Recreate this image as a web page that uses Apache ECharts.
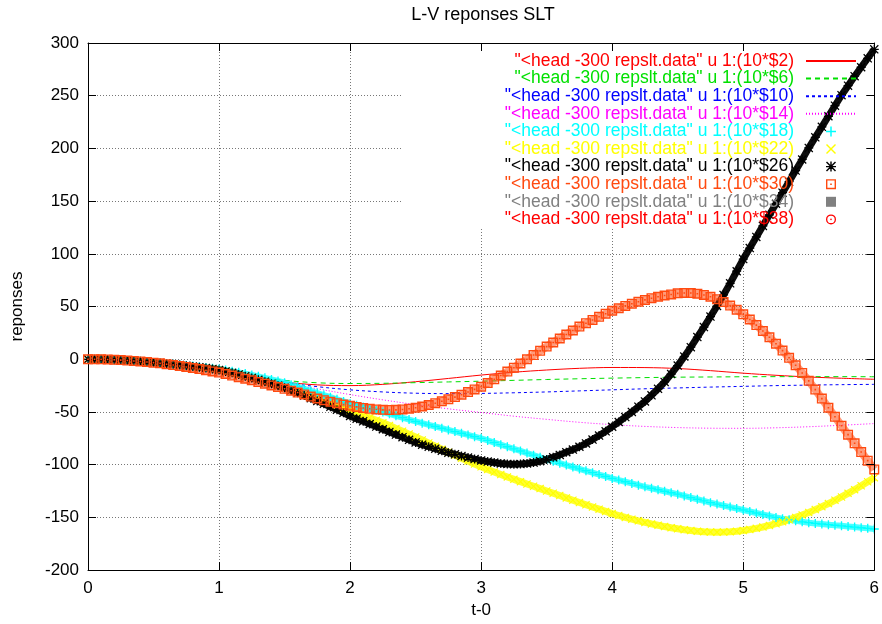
<!DOCTYPE html>
<html><head><meta charset="utf-8">
<script src="https://cdn.jsdelivr.net/npm/echarts@6/dist/echarts.min.js"></script>
<style>html,body{margin:0;padding:0;background:#fff}#c{width:882px;height:624px}</style>
</head><body><div id="c"></div>
<script>
// sample times of the point series (t-0)
const T = [0,0.05,0.1,0.15,0.2,0.25,0.3,0.35,0.4,0.45,0.5,0.55,0.6,0.65,0.7,0.75,0.8,0.85,0.9,0.95,
1,1.05,1.1,1.15,1.2,1.25,1.3,1.35,1.4,1.45,1.5,1.55,1.6,1.65,1.7,1.75,1.8,1.85,1.9,1.95,
2,2.05,2.1,2.15,2.2,2.25,2.3,2.35,2.4,2.45,2.5,2.55,2.6,2.65,2.7,2.75,2.8,2.85,2.9,2.95,
3,3.05,3.1,3.15,3.2,3.25,3.3,3.35,3.4,3.45,3.5,3.55,3.6,3.65,3.7,3.75,3.8,3.85,3.9,3.95,
4,4.05,4.1,4.15,4.2,4.25,4.3,4.35,4.4,4.45,4.5,4.55,4.6,4.65,4.7,4.75,4.8,4.85,4.9,4.95,
5,5.05,5.1,5.15,5.2,5.25,5.3,5.35,5.4,5.45,5.5,5.55,5.6,5.65,5.7,5.75,5.8,5.85,5.9,5.95,6];
// sample times of the line series
const T4 = [0,0.25,0.5,0.75,1,1.25,1.5,1.75,2,2.25,2.5,2.75,3,3.25,3.5,3.75,4,4.25,4.5,4.75,5,5.25,5.5,5.75,6];

const col2  = [0,-0.8,-3,-6.5,-11,-16.5,-21.5,-24.3,-25,-23.8,-21.3,-18.2,-15,-12.3,-10.2,-8.6,-7.8,-7.9,-8.8,-10.8,-13.2,-15.2,-16.8,-18,-19];
const col6  = [0,-0.8,-3,-6.5,-11,-16,-20,-22.3,-23,-22.8,-22.2,-21.5,-20.8,-20,-19.2,-18.5,-17.9,-17.4,-17,-16.8,-16.6,-16.5,-16.5,-16.5,-16.6];
const col10 = [0,-0.8,-3,-6.5,-11,-16.5,-22,-26,-29,-31,-32.2,-32.6,-32.4,-31.8,-31,-30,-29,-28,-27.2,-26.4,-25.7,-25,-24.5,-24.1,-23.8];
const col14 = [0,-0.8,-3,-6.5,-11,-16.5,-22.5,-28,-33.5,-38.5,-43,-47,-50.5,-54,-57,-59.8,-62,-63.7,-64.8,-65.4,-65.5,-65,-64,-62.6,-61];

const col18 = [0,0,-0.1,-0.2,-0.5,-0.8,-1.1,-1.5,-2.0,-2.5,-3.0,-3.5,-4.1,-4.7,-5.3,-5.9,-6.5,-7.1,-7.8,-8.5,
-9.2,-10.2,-11.3,-12.4,-13.6,-14.9,-16.2,-17.6,-19.1,-20.6,-22.2,-24.1,-26.0,-28.0,-30.0,-32.0,-34.0,-36.0,-38.0,-40.0,
-42.0,-43.6,-45.2,-46.8,-48.4,-50.0,-51.8,-53.6,-55.4,-57.2,-59.0,-60.6,-62.2,-63.8,-65.4,-67.0,-68.6,-70.2,-71.8,-73.4,
-75.0,-77.0,-79.0,-81.0,-83.0,-85.0,-87.0,-89.0,-91.0,-93.0,-95.0,-96.8,-98.6,-100.4,-102.2,-104.0,-105.8,-107.6,-109.4,-111.2,
-113.0,-114.6,-116.2,-117.8,-119.4,-121.0,-122.4,-123.8,-125.2,-126.6,-128.0,-129.6,-131.2,-132.8,-134.4,-136.0,-137.4,-138.8,-140.2,-141.6,
-143.0,-144.4,-145.8,-147.2,-148.6,-150.0,-151.2,-152.3,-153.3,-154.2,-155.0,-155.7,-156.3,-156.9,-157.5,-158.0,-158.6,-159.2,-159.8,-160.4,-161.0];

const col22 = [0,0,-0.1,-0.2,-0.5,-0.8,-1.1,-1.5,-2.0,-2.5,-3.0,-3.6,-4.2,-4.8,-5.4,-6.1,-6.9,-7.7,-8.5,-9.3,
-10.2,-11.5,-12.9,-14.4,-16.0,-17.6,-19.4,-21.2,-23.1,-25.0,-27.0,-29.1,-31.2,-33.4,-35.6,-37.8,-40.0,-42.2,-44.4,-46.5,
-48.5,-50.8,-53.1,-55.5,-57.9,-60.3,-62.9,-65.6,-68.3,-71.0,-73.7,-76.6,-79.5,-82.4,-85.3,-88.2,-91.0,-93.9,-96.6,-99.3,
-102.0,-104.5,-106.9,-109.3,-111.6,-113.9,-116.1,-118.3,-120.5,-122.7,-124.9,-127.1,-129.3,-131.5,-133.7,-135.9,-138.0,-140.1,-142.2,-144.3,
-146.4,-148.2,-150.0,-151.7,-153.3,-154.8,-156.2,-157.5,-158.7,-159.8,-160.8,-161.7,-162.5,-163.1,-163.6,-163.9,-164.0,-163.9,-163.6,-163.1,
-162.4,-161.5,-160.4,-159.1,-157.6,-156.0,-154.2,-152.2,-150.0,-147.7,-145.3,-142.6,-139.8,-136.9,-133.8,-130.6,-127.2,-123.7,-120.0,-116.2,-112.3];

const col26 = [0,0,-0.1,-0.2,-0.5,-0.8,-1.1,-1.5,-2.0,-2.5,-3.0,-3.6,-4.2,-4.8,-5.4,-6.1,-6.9,-7.6,-8.4,-9.2,
-10.2,-11.5,-12.9,-14.4,-16.0,-17.7,-19.5,-21.3,-23.2,-25.1,-27.1,-29.4,-31.8,-34.3,-36.9,-39.5,-42.2,-45.0,-47.8,-50.8,
-53.8,-56.4,-58.9,-61.4,-63.9,-66.4,-68.9,-71.4,-73.9,-76.4,-78.9,-81.0,-82.9,-84.8,-86.8,-88.6,-90.2,-91.8,-93.3,-94.7,
-96.0,-97.1,-98.0,-98.8,-99.3,-99.5,-99.4,-98.9,-98.0,-96.7,-95.0,-93.0,-90.7,-88.2,-85.7,-83.0,-79.8,-76.2,-72.4,-68.4,
-64.0,-59.5,-54.8,-50.0,-45.0,-40.0,-34.2,-28.0,-21.5,-14.0,-6.0,2.5,11.5,21.0,30.5,40.5,50.5,61.0,72.0,83.5,
95.0,105.5,116.0,126.5,137.0,147.5,158.0,168.5,179.0,189.5,200.5,210.5,220.5,230.5,240.5,250.5,259.5,268.5,277.0,285.5,294.0];

const col30 = [0,0,-0.1,-0.2,-0.5,-0.8,-1.2,-1.6,-2.1,-2.6,-3.2,-3.9,-4.7,-5.5,-6.4,-7.3,-8.3,-9.3,-10.4,-11.5,
-12.6,-14.0,-15.5,-17.0,-18.5,-20.0,-21.6,-23.2,-24.8,-26.4,-28.0,-29.8,-31.6,-33.4,-35.4,-37.2,-38.8,-40.3,-41.7,-43.0,
-44.1,-45.2,-46.2,-47.0,-47.6,-48.0,-48.1,-48.0,-47.6,-46.9,-46.0,-44.8,-43.4,-41.7,-39.9,-38.0,-35.9,-33.6,-31.1,-28.6,
-26.0,-22.5,-19.0,-15.4,-11.7,-8.0,-4.0,0.0,4.0,8.0,12.0,15.9,19.7,23.5,27.3,31.0,34.2,37.3,40.3,43.2,
46.0,48.4,50.6,52.7,54.6,56.3,57.9,59.3,60.5,61.5,62.5,62.9,62.8,62.2,61.0,59.3,57.0,54.2,50.9,47.0,
42.6,37.7,32.4,26.8,20.9,14.7,8.2,1.4,-5.7,-13.0,-20.5,-28.8,-37.3,-46.0,-54.6,-63.1,-71.5,-79.7,-88.0,-96.2,-104.5];

const col34 = [];
const col38 = [];

const names = [
  '"<head -300 repslt.data" u 1:(10*$2)',
  '"<head -300 repslt.data" u 1:(10*$6)',
  '"<head -300 repslt.data" u 1:(10*$10)',
  '"<head -300 repslt.data" u 1:(10*$14)',
  '"<head -300 repslt.data" u 1:(10*$18)',
  '"<head -300 repslt.data" u 1:(10*$22)',
  '"<head -300 repslt.data" u 1:(10*$26)',
  '"<head -300 repslt.data" u 1:(10*$30)',
  '"<head -300 repslt.data" u 1:(10*$34)',
  '"<head -300 repslt.data" u 1:(10*$38)'
];
const colors = ['#ff0000','#00e000','#0000ff','#ff00ff','#00ffff','#ffff00','#000000','#ff4a10','#808080','#ff0000'];

const FONT = "'Liberation Sans', Arial, sans-serif";
const FS = 17;

const SYM_PLUS = 'path://M4.25,0H5.75V4.25H10V5.75H5.75V10H4.25V5.75H0V4.25H4.25Z';
const SYM_X = 'path://M0,1L1,0L5,4L9,0L10,1L6,5L10,9L9,10L5,6L1,10L0,9L4,5Z';
const SYM_STAR = 'path://M4.3,0H5.7V4.3H10V5.7H5.7V10H4.3V5.7H0V4.3H4.3Z M0,1L1,0L5,4L9,0L10,1L6,5L10,9L9,10L5,6L1,10L0,9L4,5Z';
const SYM_BOXDOT = 'path://M0,0H10V10H0Z M1.4,1.4V8.6H8.6V1.4Z M4.2,4.2H5.8V5.8H4.2Z';
const SYM_SQUARE = 'path://M0,0H10V10H0Z';
const SYM_CIRCDOT = 'path://M5,0A5,5,0,1,1,5,10A5,5,0,1,1,5,0Z M5,1.3A3.7,3.7,0,1,0,5,8.7A3.7,3.7,0,1,0,5,1.3Z M5,4.2A0.8,0.8,0,1,1,5,5.8A0.8,0.8,0,1,1,5,4.2Z';

function zip(xs, ys){ return ys.map((v,i)=>[xs[i], v]); }

function lineSeries(i, ys, dash){
  return { name: names[i], type:'line', data: zip(T4, ys), smooth: 0.35, symbol:'none',
    color: colors[i], lineStyle:{ color: colors[i], width:1, type: dash }, z: 2 };
}
// trace joining the dense point samples (gnuplot's 300 points merge into a band)
function traceSeries(i, ys, w, op){
  return { name: 'trace' + i, type:'line', data: zip(T, ys), symbol:'none', silent:true,
    color: colors[i], lineStyle:{ color: colors[i], width: w, opacity: op, cap:'butt' }, z: 2 };
}
function pointSeries(i, ys, sym, size){
  return { name: names[i], type:'scatter', data: zip(T, ys), symbol: sym, symbolSize: size,
    color: colors[i], itemStyle:{ color: colors[i], opacity: 1 }, z: 2 };
}

const chart = echarts.init(document.getElementById('c'), null, {renderer:'canvas'});
const axisCommon = {
  type:'value',
  axisLine:{ show:true, onZero:false, lineStyle:{ color:'#000', width:1 } },
  axisTick:{ show:true, inside:true, length:8, lineStyle:{ color:'#000', width:1 } },
};
chart.setOption({
  animation:false,
  backgroundColor:'#ffffff',
  title:{ text:'L-V reponses SLT', left:483, top:6, padding:0, textAlign:'center',
    textStyle:{ fontFamily:FONT, fontSize:18, fontWeight:'normal', color:'#000' } },
  grid:{ left:88, right:4, top:43, bottom:53, containLabel:false },
  xAxis:[
    Object.assign({}, axisCommon, { position:'bottom', min:0, max:6, interval:1,
      name:'t-0', nameLocation:'middle', nameGap:30,
      nameTextStyle:{ fontFamily:FONT, fontSize:FS, color:'#000' },
      axisLabel:{ fontFamily:FONT, fontSize:FS, color:'#000', margin:10 },
      splitLine:{ show:true, lineStyle:{ color:'#777', width:1, type:[1,2] } } }),
    Object.assign({}, axisCommon, { position:'top', min:0, max:6, interval:1, z:5,
      axisLabel:{ show:false }, splitLine:{ show:false } })
  ],
  yAxis:[
    Object.assign({}, axisCommon, { position:'left', min:-200, max:300, interval:50,
      name:'reponses', nameLocation:'middle', nameGap:62,
      nameTextStyle:{ fontFamily:FONT, fontSize:FS, color:'#000' },
      axisLabel:{ fontFamily:FONT, fontSize:FS, color:'#000', margin:9 },
      splitLine:{ show:true, lineStyle:{ color:'#777', width:1, type:[1,2] } } }),
    Object.assign({}, axisCommon, { position:'right', min:-200, max:300, interval:50, z:5,
      axisLabel:{ show:false }, splitLine:{ show:false } })
  ],
  graphic:[
    { type:'rect', silent:true, z:1, shape:{ x:402, y:44, width:475, height:184 }, style:{ fill:'#ffffff' } }
  ],
  legend:{
    orient:'vertical', align:'right', right:20, top:47, itemWidth:50, itemHeight:10, itemGap:-0.4,
    selectedMode:false,
    textStyle:{ fontFamily:FONT, fontSize:17.5, lineHeight:17, padding:[0,7,0,0] },
    data: names.map((n,i)=>({ name:n, textStyle:{ color: colors[i] },
      itemStyle: i < 4 ? { opacity: 0 } : undefined }))
  },
  series:[
    lineSeries(0, col2, 'solid'),
    lineSeries(1, col6, [5,4]),
    lineSeries(2, col10, [3,3]),
    lineSeries(3, col14, [1,2]),
    traceSeries(4, col18, 6, 0.7),
    pointSeries(4, col18, SYM_PLUS, 9),
    traceSeries(5, col22, 7, 0.8),
    pointSeries(5, col22, SYM_X, 8),
    traceSeries(6, col26, 7, 0.95),
    pointSeries(6, col26, SYM_STAR, 9),
    traceSeries(7, col30, 8, 0.55),
    pointSeries(7, col30, SYM_BOXDOT, 10),
    pointSeries(8, col34, SYM_SQUARE, 8),
    pointSeries(9, col38, SYM_CIRCDOT, 9)
  ]
});
</script></body></html>
